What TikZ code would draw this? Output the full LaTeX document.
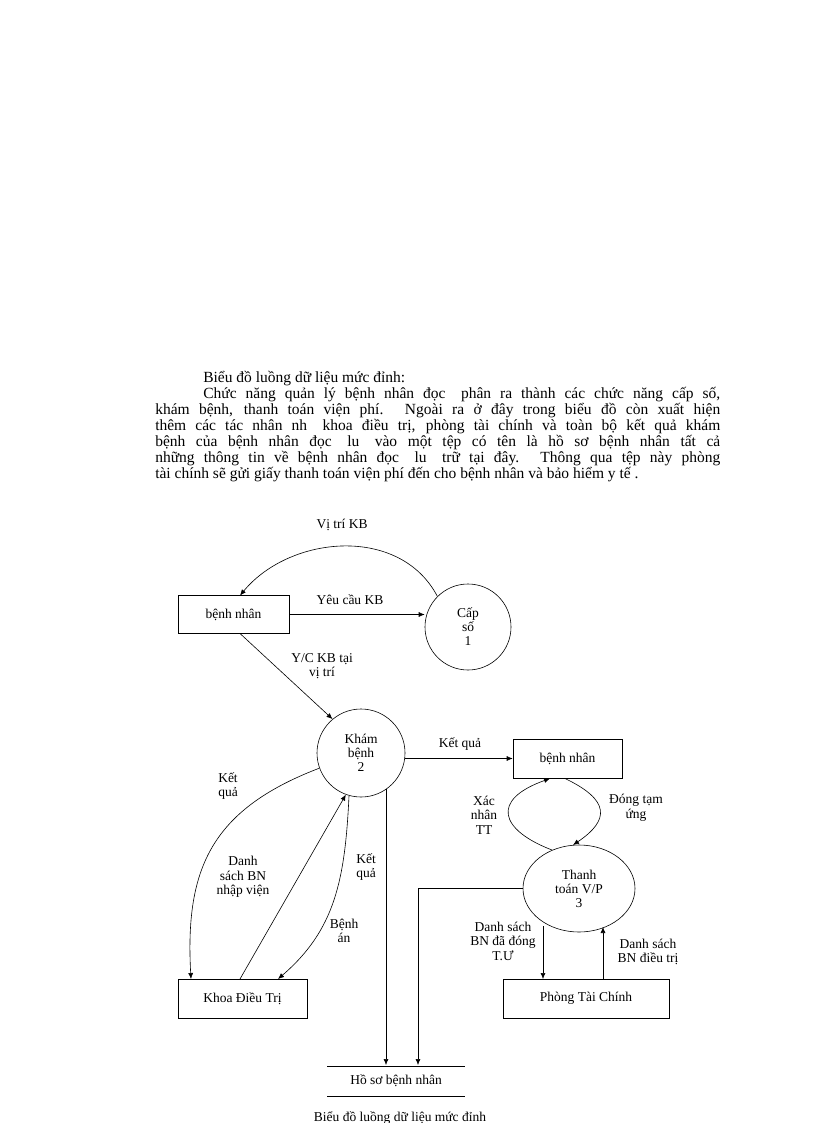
\documentclass[tikz,border=0pt]{standalone}
\usepackage{fontspec}
\setmainfont{Liberation Serif}
\usetikzlibrary{arrows.meta,shapes.geometric}
\begin{document}
\begin{tikzpicture}[x=1pt,y=-1pt,
  box/.style={draw,minimum height=38pt,inner sep=0pt,font=\fontsize{13.5}{14}\selectfont},
  proc/.style={draw,circle,align=center,font=\fontsize{13.5}{14}\selectfont,inner sep=0pt},
  lbl/.style={align=center,font=\fontsize{13.5}{14.5}\selectfont,inner sep=0pt},
  flow/.style={-{Latex[length=6pt,width=5pt]},line width=0.6pt},
  every path/.style={line width=0.6pt}]
\useasboundingbox (0,0) rectangle (816,1123);
\node[anchor=north west,inner sep=0pt,text width=565pt,font=\fontsize{15.5}{16}\selectfont,align=justify] (para) at (155,371)
{\hspace*{48pt}Biểu đồ luồng dữ liệu mức đỉnh:\par
\hspace*{48pt}Chức năng quản lý bệnh nhân đọc\quad phân ra thành các chức năng cấp số,\linebreak khám bệnh, thanh toán viện phí. Ngoài ra ở đây trong biểu đồ còn xuất hiện\linebreak thêm các tác nhân nh\quad khoa điều trị, phòng tài chính và toàn bộ kết quả khám\linebreak bệnh của bệnh nhân đọc\quad lu\quad vào một tệp có tên là hồ sơ bệnh nhân tất cả\linebreak những thông tin về bệnh nhân đọc\quad lu\quad trữ tại đây. Thông qua tệp này phòng\linebreak tài chính sẽ gửi giấy thanh toán viện phí đến cho bệnh nhân và bảo hiểm y tế .};

\node[box,minimum width=111pt] (bn1) at (233.5,614.5) {bệnh nhân};
\node[proc,minimum size=86pt] (cs) at (468,627) {Cấp\\số\\1};
\node[proc,minimum size=88pt] (kb) at (361,753) {Khám\\bệnh\\2};
\node[box,minimum width=109pt,minimum height=39pt] (bn2) at (567.5,758.5) {bệnh nhân};
\node[draw,ellipse,minimum width=112pt,minimum height=87pt,align=center,inner sep=0pt,font=\fontsize{13.5}{14}\selectfont] (tt) at (579,888.5) {Thanh\\toán V/P\\3};
\node[box,minimum width=129pt,minimum height=39pt] (kdt) at (242.5,998.5) {Khoa Điều Trị};
\node[box,minimum width=166pt,minimum height=39pt] (ptc) at (586,998.5) {Phòng Tài Chính};
\node[lbl] (hs) at (396,1081) {Hồ sơ bệnh nhân};
\draw (327,1066) -- (465,1066); \draw (327,1096) -- (465,1096);
\node[lbl] (cap) at (400,1118) {Biểu đồ luồng dữ liệu mức đỉnh};

\draw[flow] (cs.135) .. controls (400,525) and (290,535) .. (240,595.5);
\node[lbl] at (342,525) {Vị trí KB};
\draw[flow] (bn1.east) -- (bn1.east -| cs.west);
\node[lbl] at (350,600) {Yêu cầu KB};
\draw[flow] (240,633.5) -- (kb.130);
\node[lbl] at (322,666) {Y/C KB tại\\vị trí};

\draw[flow] (kb.east |- bn2.west) -- (bn2.west);
\node[lbl] at (460,744) {Kết quả};
\draw[flow] (tt.125) .. controls (500,830) and (490,800) .. (550,778.5);
\node[lbl] at (484,815) {Xác\\nhân\\TT};
\draw[flow] (565,778.5) .. controls (610,800) and (610,820) .. (573,845);
\node[lbl] at (636,808) {Đóng tạm\\ứng};

\draw[flow] (kb.200) .. controls (210,810) and (185,870) .. (191,979);
\node[lbl] at (228,786) {Kết\\quả};
\draw[flow] (240,979) -- (kb.250);
\node[lbl] at (243,877) {Danh\\sách BN\\nhập viện};
\draw[flow] (349,796) .. controls (345,880) and (335,930) .. (278,979);
\node[lbl] at (344,931) {Bệnh\\án};
\draw[flow] (386,789) -- (386,1065);
\node[lbl] at (366,867) {Kết\\quả};
\draw[flow] (tt.west) -| (418,1065);
\draw[flow] (543,926) -- (543,979);
\node[lbl] at (503,941) {Danh sách\\BN đã đóng\\T.Ư};
\draw[flow] (603,979) -- (603,927);
\node[lbl] at (648,952) {Danh sách\\BN điều trị};
\end{tikzpicture}
\end{document}
